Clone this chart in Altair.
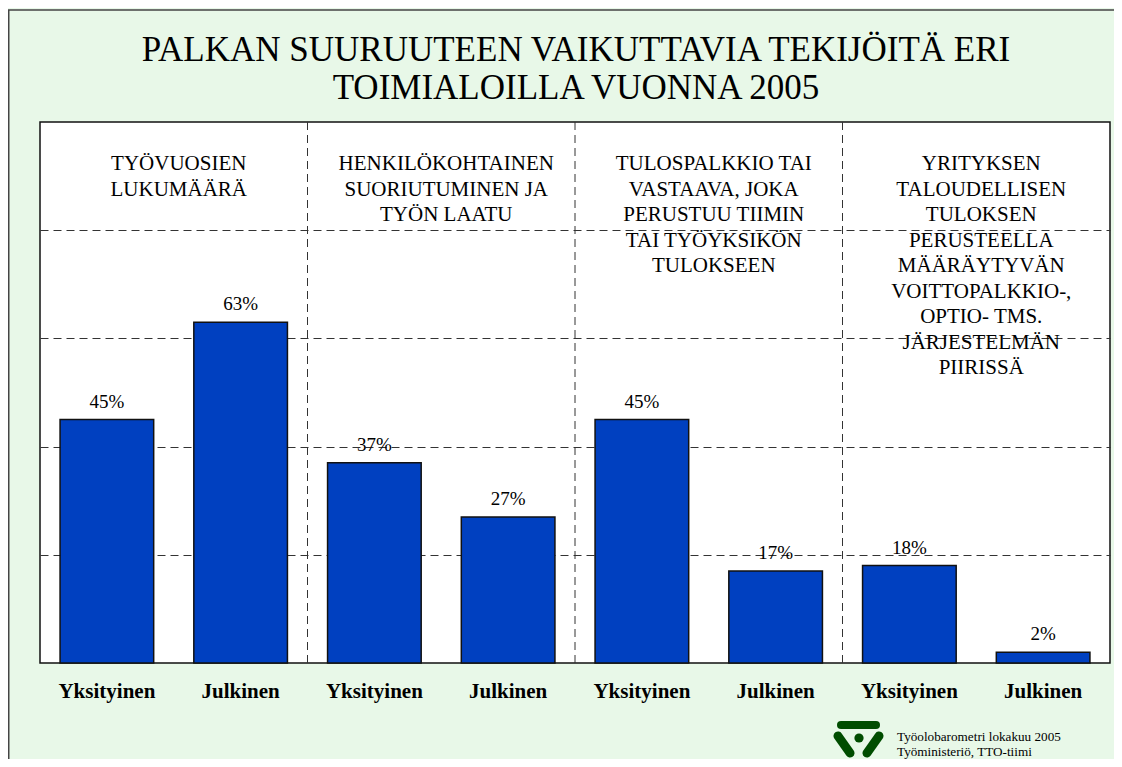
import altair as alt
import pandas as pd

# ---- data ----
groups = ["1", "2", "3", "4"]
group_labels = [
    ["TYÖVUOSIEN", "LUKUMÄÄRÄ"],
    ["HENKILÖKOHTAINEN", "SUORIUTUMINEN JA", "TYÖN LAATU"],
    ["TULOSPALKKIO TAI", "VASTAAVA, JOKA", "PERUSTUU TIIMIN", "TAI TYÖYKSIKÖN", "TULOKSEEN"],
    ["YRITYKSEN", "TALOUDELLISEN", "TULOKSEN", "PERUSTEELLA", "MÄÄRÄYTYVÄN",
     "VOITTOPALKKIO-,", "OPTIO- TMS.", "JÄRJESTELMÄN", "PIIRISSÄ"],
]
sectors = ["Yksityinen", "Julkinen"]
yksityinen = [45, 37, 45, 18]
julkinen = [63, 27, 17, 2]

title_lines = ["PALKAN SUURUUTEEN VAIKUTTAVIA TEKIJÖITÄ ERI", "TOIMIALOILLA VUONNA 2005"]
source_lines = ["Työolobarometri lokakuu 2005", "Työministeriö, TTO-tiimi"]

# ---- tables ----
rows = []
for i, g in enumerate(groups):
    for s, v in zip(sectors, [yksityinen[i], julkinen[i]]):
        rows.append({"key": f"{g}|{s}", "group": g, "sector": s, "value": v,
                     "label": f"{v}%"})
df = pd.DataFrame(rows)
keys = list(df["key"])

grp_df = pd.DataFrame({"key": [f"{g}|Yksityinen" for g in groups],
                       "text": group_labels})
sep_df = pd.DataFrame({"key": [f"{g}|Julkinen" for g in groups[:-1]]})

FONT = "Liberation Serif"
W, H = 1070, 541

xscale = alt.Scale(domain=keys, paddingInner=0, paddingOuter=0)
xenc = alt.X("key:N", scale=xscale, sort=keys,
             axis=alt.Axis(title=None, labelAngle=0, ticks=False, tickSize=0, domain=False,
                           labelExpr="split(datum.label, '|')[1]",
                           labelFont=FONT, labelFontWeight="bold", labelFontSize=21,
                           labelColor="black", labelPadding=17))
yscale = alt.Scale(domain=[0, 100], nice=False, zero=True)
yenc = alt.Y("value:Q", scale=yscale,
             axis=alt.Axis(title=None, labels=False, ticks=False, domain=False,
                           values=[20, 40, 60, 80], grid=True, gridColor="#333",
                           gridDash=[8, 5], gridWidth=1))

bars = alt.Chart(df).mark_bar(width={"band": 0.7}, color="#0040c0",
                              stroke="#111", strokeWidth=1.5).encode(x=xenc, y=yenc)

vlabels = alt.Chart(df).mark_text(font=FONT, fontSize=19, baseline="bottom", dy=-8,
                                  color="black").encode(
    x=alt.X("key:N", scale=xscale, sort=keys), y=alt.Y("value:Q", scale=yscale),
    text="label:N")

seps = alt.Chart(sep_df).mark_rule(color="#333", strokeDash=[8, 5], strokeWidth=1).encode(
    x=alt.X("key:N", scale=xscale, sort=keys, bandPosition=1),
    y=alt.value(0), y2=alt.value(H))

gtext = alt.Chart(grp_df).mark_text(font=FONT, fontSize=21, baseline="middle", align="center",
                                    lineHeight=25.5, dx=5, color="black").encode(
    x=alt.X("key:N", scale=xscale, sort=keys, bandPosition=1),
    y=alt.value(42), text="text")

one = alt.Data(values=[{"a": 1}])

title = alt.Chart(alt.Data(values=[{"t": title_lines}])).mark_text(
    font=FONT, fontSize=35, align="center", baseline="middle", lineHeight=38,
    color="black").encode(x=alt.value(W / 2 + 1), y=alt.value(-72), text="t:N")

LOGO = "#004d00"
logo_bar = alt.Chart(one).mark_rule(color=LOGO, strokeWidth=8, strokeCap="round").encode(
    x=alt.value(801), x2=alt.value(836), y=alt.value(603), y2=alt.value(603))
logo_l = alt.Chart(one).mark_rule(color=LOGO, strokeWidth=9, strokeCap="round").encode(
    x=alt.value(798), x2=alt.value(810), y=alt.value(614), y2=alt.value(631))
logo_r = alt.Chart(one).mark_rule(color=LOGO, strokeWidth=9, strokeCap="round").encode(
    x=alt.value(839), x2=alt.value(827), y=alt.value(614), y2=alt.value(631))
logo_c = alt.Chart(one).mark_point(color=LOGO, filled=True, opacity=1, shape="circle",
                                   size=85).encode(x=alt.value(819), y=alt.value(616))

source = alt.Chart(alt.Data(values=[{"t": source_lines}])).mark_text(
    font=FONT, fontSize=13.2, align="left", baseline="middle", lineHeight=15,
    color="black").encode(x=alt.value(857), y=alt.value(615), text="t:N")

frame = alt.Chart(one).mark_rect(fillOpacity=0, stroke="#444", strokeWidth=1.5).encode(
    x=alt.value(-31.25), x2=alt.value(1200), y=alt.value(-112), y2=alt.value(800))

chart = alt.layer(
    bars, seps, vlabels, gtext, title, logo_bar, logo_l, logo_r, logo_c, source, frame
).properties(
    width=W, height=H,
    autosize=alt.AutoSizeParams(type="none"),
    padding={"left": 32, "top": 114, "right": 4, "bottom": 96},
).configure(background="#e8f8e8").configure_view(
    stroke="#111", strokeWidth=1.5, fill="white")

chart.save("out.html", embed_options={"renderer": "svg", "actions": False})
